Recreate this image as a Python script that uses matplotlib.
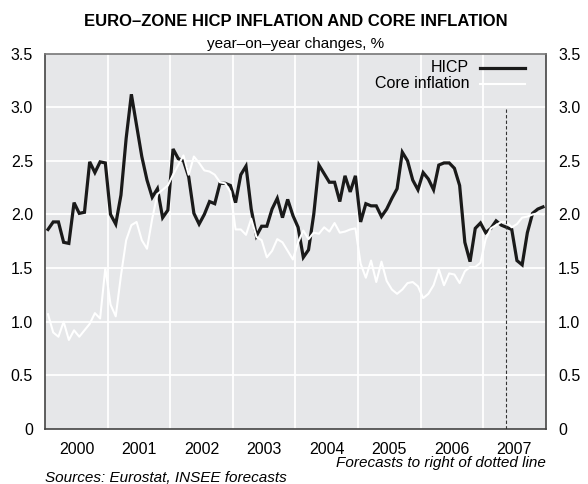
import matplotlib
matplotlib.use("Agg")
import matplotlib.pyplot as plt
import numpy as np
from matplotlib.lines import Line2D

plt.rcParams['font.family'] = ['Liberation Sans', 'DejaVu Sans']

years = [2000, 2001, 2002, 2003, 2004, 2005, 2006, 2007]
year_labels = [str(y) for y in years]

hicp = [
    1.86, 1.93, 1.93, 1.74, 1.73, 2.11, 2.01, 2.02, 2.49, 2.39, 2.49, 2.48,
    2.00, 1.91, 2.18, 2.71, 3.12, 2.83, 2.54, 2.32, 2.16, 2.24, 1.97, 2.04,
    2.61, 2.52, 2.50, 2.35, 2.01, 1.91, 2.00, 2.12, 2.10, 2.29, 2.29, 2.27,
    2.11, 2.37, 2.45, 2.05, 1.80, 1.89, 1.89, 2.05, 2.15, 1.97, 2.14, 1.99,
    1.88, 1.60, 1.67, 2.00, 2.46, 2.38, 2.30, 2.30, 2.12, 2.36, 2.21, 2.36,
    1.93, 2.10, 2.08, 2.08, 1.98, 2.05, 2.15, 2.24, 2.58, 2.50, 2.32, 2.23,
    2.39, 2.33, 2.23, 2.46, 2.48, 2.48, 2.43, 2.27, 1.74, 1.56, 1.87, 1.92,
    1.83, 1.87, 1.94, 1.90, 1.88, 1.86, 1.57, 1.53, 1.83, 2.01, 2.05, 2.07,
]
core = [
    1.07, 0.90, 0.86, 1.00, 0.83, 0.92, 0.86, 0.92, 0.98, 1.08, 1.03, 1.50,
    1.16, 1.05, 1.43, 1.76, 1.90, 1.93, 1.76, 1.68, 1.96, 2.19, 2.23, 2.27,
    2.37, 2.46, 2.55, 2.37, 2.54, 2.48, 2.41, 2.40, 2.37, 2.30, 2.29, 2.21,
    1.86, 1.86, 1.81, 1.96, 1.79, 1.76, 1.60, 1.66, 1.77, 1.74, 1.66, 1.58,
    1.74, 1.85, 1.77, 1.83, 1.82, 1.88, 1.84, 1.92, 1.83, 1.84, 1.86, 1.87,
    1.54, 1.41, 1.57, 1.37, 1.56, 1.38, 1.30, 1.26, 1.30, 1.36, 1.37, 1.33,
    1.22, 1.26, 1.34, 1.49, 1.34, 1.45, 1.44, 1.36, 1.47, 1.51, 1.51, 1.55,
    1.77, 1.87, 1.90, 1.93, 1.93, 1.88, 1.91, 1.97, 1.98, 2.00, 2.01, 2.00,
]
forecast_start = 2007.37
y_ticks = [0, 0.5, 1.0, 1.5, 2.0, 2.5, 3.0, 3.5]
y_tick_labels = ['0', '0.5', '1.0', '1.5', '2.0', '2.5', '3.0', '3.5']

x = 2000 + (np.arange(len(hicp)) + 0.5) / 12.0

W, H = 588, 484
fig = plt.figure(figsize=(5.88, 4.84), dpi=100)
ax = fig.add_axes([45.4/W, 1-429/H, (545.6-45.4)/W, (429-53.5)/H])
ax.set_facecolor('#e6e7e9')
ax.set_xlim(2000, 2008)
ax.set_ylim(0, 3.5)

for yv in y_ticks[1:-1]:
    ax.axhline(yv, color='white', lw=1.3, zorder=1)
for yr in years[1:]:
    ax.axvline(yr, color='white', lw=1.3, zorder=1)

ax.plot(x, hicp, color='#1a1a1a', lw=2.3, zorder=3, solid_joinstyle='miter')
ax.plot(x, core, color='white', lw=1.5, zorder=4)
ax.plot([forecast_start, forecast_start], [0, 3.0], color='#333333', lw=0.8,
        ls=(0, (3, 2)), zorder=5)

ax.set_xticks([y + 0.5 for y in years])
ax.set_xticklabels(year_labels, fontsize=11.5)
ax.tick_params(axis='x', length=0, pad=9)
ax.set_yticks(y_ticks)
ax.set_yticklabels(y_tick_labels, fontsize=11.5)
ax.tick_params(axis='y', length=0, labelright=True, labelleft=True)
for t in ax.yaxis.get_major_ticks():
    t.label2.set_horizontalalignment('left')
    t.set_pad(9)

for s in ax.spines.values():
    s.set_color('#444444')
    s.set_linewidth(1.2)
ax.spines['top'].set_color('#777777')

# legend
fig.text(469/W, 1-68/H, 'HICP', fontsize=11.5, ha='right', va='center')
fig.text(469/W, 1-84/H, 'Core inflation', fontsize=11.5, ha='right', va='center')
fig.add_artist(Line2D([480/W, 525/W], [1-68/H, 1-68/H], color='#1a1a1a', lw=2.3))
fig.add_artist(Line2D([480/W, 525/W], [1-84/H, 1-84/H], color='white', lw=1.5))

fig.text(296/W, 1-21/H, 'EURO\u2013ZONE HICP INFLATION AND CORE INFLATION',
         fontsize=12, fontweight='bold', ha='center', va='center')
fig.text(296/W, 1-44/H, 'year\u2013on\u2013year changes, %', fontsize=11,
         ha='center', va='center')
fig.text(545.6/W, 1-463/H, 'Forecasts to right of dotted line', fontsize=11,
         style='italic', ha='right', va='center')
fig.text(45.4/W, 1-478/H, 'Sources: Eurostat, INSEE forecasts', fontsize=11,
         style='italic', ha='left', va='center')

fig.savefig('out.png', dpi=100)
